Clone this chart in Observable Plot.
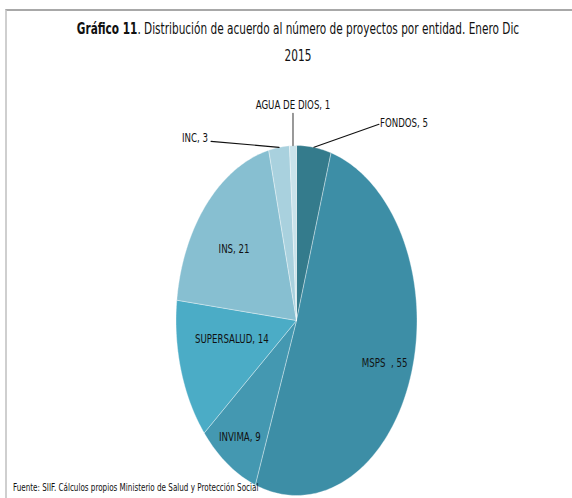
<!DOCTYPE html>
<html><head><meta charset="utf-8">
<script src="https://cdn.jsdelivr.net/npm/d3@7"></script>
<script src="https://cdn.jsdelivr.net/npm/@observablehq/plot@0.6"></script>
<style>
body{margin:0;background:#fff;}
#wrap{position:relative;width:572px;height:498px;overflow:hidden;font-family:"DejaVu Sans Condensed","Liberation Sans",sans-serif;color:#111;}
#frame{position:absolute;left:5px;top:9px;width:600px;height:520px;border-top:2px solid #a8a8a8;border-left:2px solid #cfcfcf;}
#title{position:absolute;left:0;top:16px;width:596px;text-align:center;font-size:15px;line-height:27px;transform:scaleX(0.78);transform-origin:298px 0;}
#caption{position:absolute;left:13px;top:482px;font-size:10px;white-space:nowrap;transform:scaleX(0.8);transform-origin:0 0;}
#chart{position:absolute;left:0;top:0;}
</style></head>
<body>
<div id="wrap">
<div id="frame"></div>
<div id="chart"></div>
<div id="title"><b>Gráfico 11</b>. Distribución de acuerdo al número de proyectos por entidad. Enero Dic<br>2015</div>
<div id="caption">Fuente: SIIF. Cálculos propios Ministerio de Salud y Protección Social</div>
</div>
<script>
const entidades = ["FONDOS", "MSPS", "INVIMA", "SUPERSALUD", "INS", "INC", "AGUA DE DIOS"];
const proyectos = [5, 55, 9, 14, 21, 3, 1];
const etiquetas = ["FONDOS, 5", "MSPS  , 55", "INVIMA, 9", "SUPERSALUD, 14", "INS, 21", "INC, 3", "AGUA DE DIOS, 1"];
const colores = ["#347b8c", "#3d8ea6", "#4498b1", "#4bacc6", "#87bfd1", "#a9d1de", "#c9e3eb"];

// geometry helpers
const RX = 120.5, RY = 175; // pixel radii of the ellipse
const total = d3.sum(proyectos);
let cum = 0;
const slices = entidades.map((e, i) => {
  const a0 = cum / total * 2 * Math.PI; cum += proyectos[i];
  const a1 = cum / total * 2 * Math.PI;
  return {e, v: proyectos[i], lab: etiquetas[i], a0, a1, mid: (a0 + a1) / 2};
});
const pts = [];
for (const s of slices) {
  pts.push({e: s.e, x: 0, y: 0});
  const n = Math.max(2, Math.ceil((s.a1 - s.a0) / (Math.PI / 180)));
  for (let k = 0; k <= n; k++) {
    const a = s.a0 + (s.a1 - s.a0) * k / n;
    pts.push({e: s.e, x: Math.sin(a), y: Math.cos(a)});
  }
  pts.push({e: s.e, x: 0, y: 0});
}
// inner label layout: radius fraction and pixel nudges
const inner = {MSPS: [0.77, 0, 0], INVIMA: [0.82, 0, -1], SUPERSALUD: [0.56, 0, -9], INS: [0.66, -3, 5]};
const innerLabels = slices.filter(s => inner[s.e]).map(s => {
  const [r, dx, dy] = inner[s.e];
  return {lab: s.lab, x: r * Math.sin(s.mid) + dx / RX, y: r * Math.cos(s.mid) - dy / RY};
});
// outside labels: elbow offset from slice edge in px, text anchor
const outer = {FONDOS: [65, -23, "start", 1, -1], INC: [-68, -6, "end", -3, -3], "AGUA DE DIOS": [0, -32, "middle", 0, -8]};
const leaders = [], outerLabels = [];
for (const s of slices.filter(s => outer[s.e])) {
  const [ex, ey, anchor, tx, ty] = outer[s.e];
  const x0 = Math.sin(s.mid), y0 = Math.cos(s.mid);
  const x1 = x0 + ex / RX, y1 = y0 - ey / RY;
  leaders.push({e: s.e, x: x0, y: y0}, {e: s.e, x: x1, y: y1});
  outerLabels.push({lab: s.lab, x: x1 + tx / RX, y: y1 - ty / RY, anchor});
}
const font = '"DejaVu Sans Condensed","Liberation Sans",sans-serif';
const chart = Plot.plot({
  width: 572, height: 498, margin: 0,
  style: {fontFamily: font, background: "transparent"},
  x: {domain: [-1, 1], range: [296 - RX, 296 + RX], axis: null},
  y: {domain: [-1, 1], range: [320 + RY, 320 - RY], axis: null},
  color: {domain: entidades, range: colores},
  marks: [
    Plot.line(pts, {x: "x", y: "y", z: "e", fill: "e", stroke: "#ffffff", strokeWidth: 0.6, strokeOpacity: 0.6, curve: "linear"}),
    Plot.line(leaders, {x: "x", y: "y", z: "e", stroke: d => d.e === "AGUA DE DIOS" ? "#808080" : "#111", strokeWidth: d => d.e === "AGUA DE DIOS" ? 1.6 : 1.1}),
    Plot.text(innerLabels, {x: "x", y: "y", text: "lab", fontSize: 12, fill: "#111"}),
    Plot.text(outerLabels.filter(d => d.anchor === "start"), {x: "x", y: "y", text: "lab", textAnchor: "start", fontSize: 12, fill: "#111"}),
    Plot.text(outerLabels.filter(d => d.anchor === "end"), {x: "x", y: "y", text: "lab", textAnchor: "end", fontSize: 12, fill: "#111"}),
    Plot.text(outerLabels.filter(d => d.anchor === "middle"), {x: "x", y: "y", text: "lab", textAnchor: "middle", fontSize: 12, fill: "#111"})
  ]
});
document.getElementById("chart").appendChild(chart);
// condense label glyphs to mimic the narrow original typeface
chart.querySelectorAll("text").forEach(t => {
  const len = t.getComputedTextLength();
  t.setAttribute("textLength", (len * 0.8).toFixed(1));
  t.setAttribute("lengthAdjust", "spacingAndGlyphs");
});
</script>
</body></html>
